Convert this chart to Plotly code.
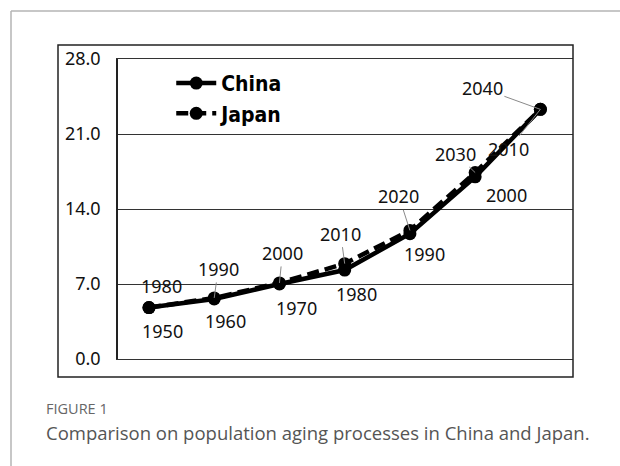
import plotly.graph_objects as go

# ---- data ----
stage = [0, 1, 2, 3, 4, 5, 6]
china_years = ["1950", "1960", "1970", "1980", "1990", "2000", "2010"]
japan_years = ["1980", "1990", "2000", "2010", "2020", "2030", "2040"]
china_values = [4.8, 5.6, 7.0, 8.3, 11.7, 17.0, 23.3]
japan_values = [4.8, 5.7, 7.1, 8.9, 12.0, 17.4, 23.3]
y_ticks = [0, 7, 14, 21, 28]
caption_label = "FIGURE 1"
caption_text = "Comparison on population aging processes in China and Japan."

# ---- label placement (styling) ----
japan_dx = [13, 4, 3, -4, -11, -20, -58]
japan_dy = [-22, -29, -30, -30, -34, -19, -21]
japan_leader = [False, True, True, True, True, True, True]
china_dx = [14, 11, 17, 12, 15, 31, -32]
china_dy = [23, 22, 24, 24, 20, 18, 40]
china_leader = [False, False, False, False, False, False, True]

LABEL_FONT = dict(family="Noto Sans, Open Sans, DejaVu Sans", size=18, color="#111")

fig = go.Figure()
fig.add_trace(go.Scatter(
    x=stage, y=japan_values, name="Japan", mode="lines+markers",
    line=dict(color="black", width=4.5, dash="12px,6px"),
    marker=dict(color="black", size=13, symbol="circle"),
))
fig.add_trace(go.Scatter(
    x=stage, y=china_values, name="China", mode="lines+markers",
    line=dict(color="black", width=4.5),
    marker=dict(color="black", size=13, symbol="circle"),
))

annotations = []
for xs, ys, labels, dxs, dys, leads in [
    (stage, japan_values, japan_years, japan_dx, japan_dy, japan_leader),
    (stage, china_values, china_years, china_dx, china_dy, china_leader),
]:
    for x, y, t, dx, dy, lead in zip(xs, ys, labels, dxs, dys, leads):
        annotations.append(dict(
            x=x, y=y, xref="x", yref="y", text=t, showarrow=True,
            ax=dx, ay=dy, arrowhead=0, arrowwidth=1, standoff=0,
            arrowcolor="#8a8a8a" if lead else "rgba(0,0,0,0)",
            font=LABEL_FONT,
        ))

W, H = 620, 466
L, R, T, B = 118, 47, 59, 107
pw, ph = W - L - R, H - T - B


def px(xp):
    return (xp - L) / pw


def py(yp):
    return (H - B - yp) / ph


# caption
annotations.append(dict(
    x=px(44), y=py(408), xref="paper", yref="paper", xanchor="left", yanchor="middle",
    text=caption_label, showarrow=False,
    font=dict(family="Open Sans, Noto Sans", size=14.5, color="#666"),
))
annotations.append(dict(
    x=px(44), y=py(432), xref="paper", yref="paper", xanchor="left", yanchor="middle",
    text=caption_text, showarrow=False,
    font=dict(family="Open Sans, Noto Sans", size=18.5, color="#555"),
))

shapes = [
    # outer chart box
    dict(type="rect", xref="paper", yref="paper",
         x0=px(58), x1=px(573), y0=py(377), y1=py(45),
         line=dict(color="#222", width=1.5)),
    # page frame
    dict(type="line", xref="paper", yref="paper",
         x0=px(11), x1=px(640), y0=py(11), y1=py(11),
         line=dict(color="#b5b5b5", width=1.5)),
    dict(type="line", xref="paper", yref="paper",
         x0=px(11), x1=px(11), y0=py(11), y1=py(480),
         line=dict(color="#b5b5b5", width=1.5)),
]

fig.update_layout(
    width=W, height=H,
    margin=dict(l=L, r=R, t=T, b=B),
    paper_bgcolor="white", plot_bgcolor="white",
    showlegend=True,
    legend=dict(
        x=0.117, y=0.987, xanchor="left", yanchor="top",
        traceorder="reversed",
        font=dict(family="DejaVu Sans Condensed, Liberation Sans Narrow, Arial Narrow",
                  size=21, color="black", weight="bold"),
        bgcolor="rgba(0,0,0,0)", tracegroupgap=0, itemwidth=40,
    ),
    xaxis=dict(range=[-0.475, 6.5], showgrid=False, zeroline=False,
               showticklabels=False, ticks="",
               showline=True, mirror=True, linecolor="#333", linewidth=1.2),
    yaxis=dict(
        range=[0, 28], tickvals=y_ticks, tickformat=".1f",
        showgrid=True, gridcolor="#333", gridwidth=1.2,
        zeroline=False, showline=True, linecolor="#222", linewidth=1.5,
        ticks="", ticklabelstandoff=12,
        tickfont=dict(family="Noto Sans, Open Sans, DejaVu Sans", size=18, color="#111"),
    ),
    annotations=annotations,
    shapes=shapes,
)

fig.write_html("out.html", config={"displayModeBar": False},
               post_script="document.body.style.margin='0';")
